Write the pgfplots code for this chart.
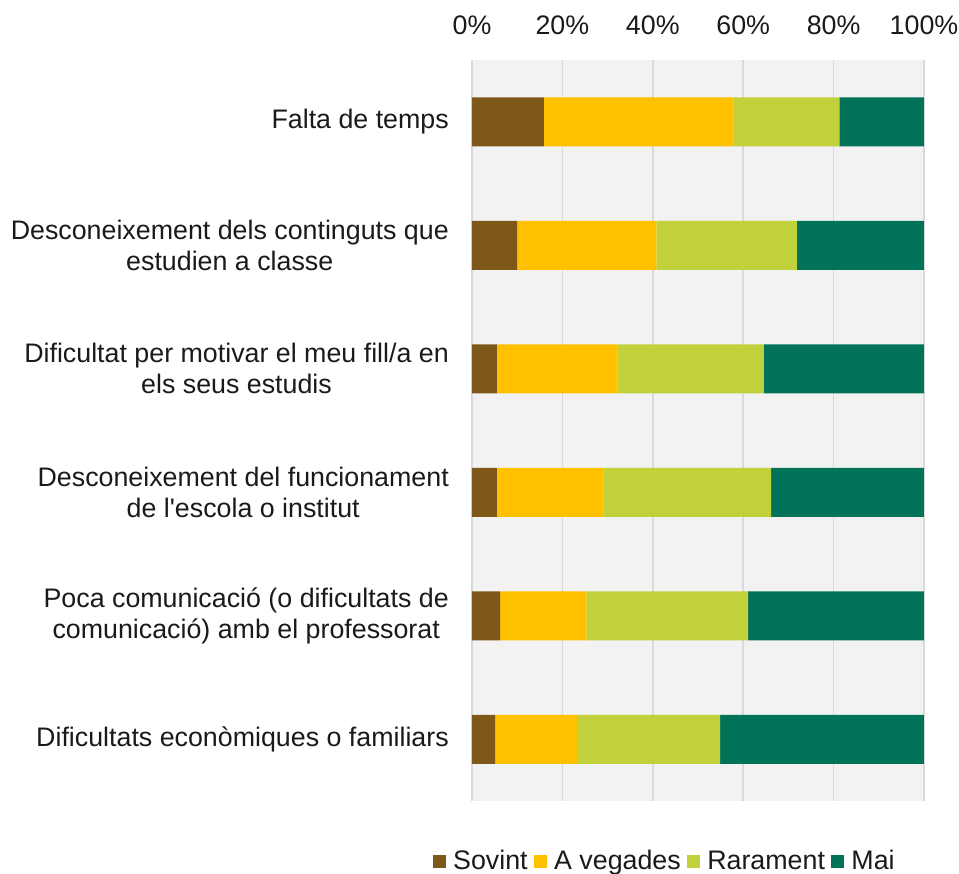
\documentclass[border=0pt]{standalone}
\usepackage{fontspec}
\setmainfont{Liberation Sans}
\usepackage{pgfplots}
\pgfplotsset{compat=1.18}
\definecolor{cSov}{HTML}{7E5819}
\definecolor{cAve}{HTML}{FFC000}
\definecolor{cRar}{HTML}{C1D13C}
\definecolor{cMai}{HTML}{017359}
\definecolor{cGrid}{HTML}{D9D9D9}
\definecolor{cBack}{HTML}{F2F2F2}
\definecolor{cText}{HTML}{1A1A1A}
\begin{document}
\begin{tikzpicture}
\begin{axis}[
  scale only axis, width=452bp, height=741bp,
  xbar stacked, bar width=49bp,
  xmin=0, xmax=100, ymin=-0.5, ymax=5.5, y dir=reverse,
  axis background/.style={fill=cBack},
  axis line style={draw=none},
  xmajorgrids, grid style={color=cGrid, line width=1.6bp},
  xtick={0,20,...,100}, xticklabel pos=upper,
  xticklabel={\pgfmathprintnumber{\tick}\%},
  major tick length=0pt,
  ytick={0,...,5},
  yticklabels={Falta de temps,
    {Desconeixement dels continguts que\\estudien a classe},
    {Dificultat per motivar el meu fill/a en\\els seus estudis},
    {Desconeixement del funcionament\\de l\textquotesingle escola o institut},
    {Poca comunicació (o dificultats de\\comunicació) amb el professorat},
    Dificultats econòmiques o familiars},
  tick label style={font=\fontsize{26.8bp}{31bp}\selectfont, text=cText},
  yticklabel style={align=center, inner sep=0pt, xshift=-23bp},
  xticklabel style={inner sep=0pt, yshift=25bp},
  /pgf/number format/assume math mode=true,
  legend columns=4,
  legend style={draw=none, fill=none, inner sep=0pt, anchor=west,
    at={(-0.0863,-0.081)},
    font=\fontsize{26.8bp}{31bp}\selectfont, text=cText,
    /tikz/every even column/.append style={column sep=6.5bp},
    nodes={inner sep=0pt, outer sep=0pt}},
  legend image code/.code={\path[#1,draw=none] (0bp,-6.5bp) rectangle (13bp,6.5bp);},
  legend cell align=left,
]
\addplot[fill=cSov, draw=none] coordinates {(15.9,0) (10.0,1) (5.5,2) (5.5,3) (6.2,4) (5.1,5)};
\addplot[fill=cAve, draw=none] coordinates {(41.9,0) (30.8,1) (26.7,2) (23.6,3) (19.1,4) (18.3,5)};
\addplot[fill=cRar, draw=none] coordinates {(23.5,0) (31.1,1) (32.3,2) (37.1,3) (35.8,4) (31.5,5)};
\addplot[fill=cMai, draw=none] coordinates {(18.7,0) (28.1,1) (35.5,2) (33.8,3) (38.9,4) (45.1,5)};
\legend{\hspace{7bp}Sovint,\hspace{7bp}A vegades,\hspace{7bp}Rarament,\hspace{7bp}Mai}
\end{axis}
\pgfresetboundingbox
\path[use as bounding box] ([xshift=-472bp,yshift=-73bp]current axis.south west) rectangle ++(959bp,874bp);
\end{tikzpicture}
\end{document}
